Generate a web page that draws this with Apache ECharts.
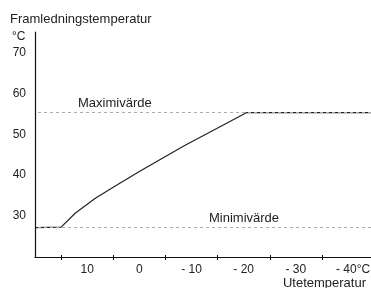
<!DOCTYPE html>
<html>
<head>
<meta charset="utf-8">
<script src="https://cdn.jsdelivr.net/npm/echarts@6/dist/echarts.min.js"></script>
<style>html,body{margin:0;padding:0;background:#fff;}#c{width:371px;height:288px;}</style>
</head>
<body>
<div id="c"></div>
<script>
// Outdoor temperature (°C) vs supply temperature (°C)
const outdoorTemps = [20, 15, 12.3, 8.5, 4.7, 0, -4.5, -8.6, -14.2, -20.6, -44.4];
const supplyTemps  = [27.2, 27.3, 30.7, 34.3, 37.3, 40.9, 44.2, 47.2, 51.0, 55.3, 55.3];
const maxValue = 55.3;
const minValue = 27.2;
const maxLabel = 'Maximivärde';
const minLabel = 'Minimivärde';
const xTickValues = [15, 5, -5, -15, -25, -35];
const xLabelValues = [10, 0, -10, -20, -30, -40];
const xLabelTexts = ['10', '0', '- 10', '- 20', '- 30', '- 40°C'];
const yLabelValues = [30, 40, 50, 60, 70];
const yTitle = 'Framledningstemperatur';
const yUnit = '°C';
const xTitle = 'Utetemperatur';

const FONT = '"Liberation Sans", Arial, sans-serif';
const chart = echarts.init(document.getElementById('c'), null, {renderer: 'canvas'});
const lineData = outdoorTemps.map((x, i) => [x, supplyTemps[i]]);

chart.setOption({
  animation: false,
  backgroundColor: '#fff',
  grid: {left: 35, right: 0, top: 32, bottom: 31, containLabel: false, outerBoundsMode: 'none'},
  xAxis: [{
    type: 'value', min: -44.4, max: 20, inverse: true,
    axisLine: {show: true, onZero: false, lineStyle: {color: '#111', width: 1.2}},
    axisTick: {show: true, customValues: xTickValues, length: 3, lineStyle: {color: '#111', width: 1}},
    axisLabel: {
      customValues: xLabelValues, fontSize: 12, color: '#222', fontFamily: FONT, margin: 7,
      formatter: v => {
        const i = xLabelValues.indexOf(v);
        const t = i >= 0 ? xLabelTexts[i] : '';
        return t.indexOf('°') >= 0 ? '{s|' + t + '}' : t;
      },
      rich: {s: {fontSize: 12, color: '#222', fontFamily: FONT, padding: [0, 0, 0, 10]}}
    },
    splitLine: {show: false}
  }, {
    type: 'value', min: -44.4, max: 20, inverse: true, position: 'bottom',
    axisLine: {show: false, onZero: false},
    axisTick: {show: true, inside: true, customValues: xTickValues, length: 2, lineStyle: {color: '#111', width: 1}},
    axisLabel: {show: false},
    splitLine: {show: false}
  }],
  yAxis: {
    type: 'value', min: 20, max: 75,
    axisLine: {show: true, onZero: false, lineStyle: {color: '#111', width: 1.2}},
    axisTick: {show: false},
    axisLabel: {customValues: yLabelValues, fontSize: 12, color: '#222', fontFamily: FONT, margin: 9},
    splitLine: {show: false}
  },
  series: [{
    type: 'line',
    data: lineData,
    showSymbol: false,
    symbol: 'none',
    lineStyle: {color: '#222', width: 1.2},
    markLine: {
      silent: true,
      symbol: 'none',
      lineStyle: {color: '#aaa', type: [3, 3], width: 1},
      data: [
        {yAxis: maxValue, label: {show: true, formatter: maxLabel, position: 'insideEndTop', distance: [43, 3], fontSize: 13, color: '#222', fontFamily: FONT}},
        {yAxis: minValue, label: {show: true, formatter: minLabel, position: 'insideEndTop', distance: [174, 3], fontSize: 13, color: '#222', fontFamily: FONT}}
      ]
    },
    z: 3
  }],
  graphic: [
    {type: 'text', left: 10, top: 13, style: {text: yTitle, font: '13px ' + FONT, fill: '#222'}},
    {type: 'text', left: 12, top: 31, style: {text: yUnit, font: '12px ' + FONT, fill: '#222'}},
    {type: 'text', right: 5, top: 277, style: {text: xTitle, font: '13px ' + FONT, fill: '#222'}}
  ]
});
</script>
</body>
</html>
